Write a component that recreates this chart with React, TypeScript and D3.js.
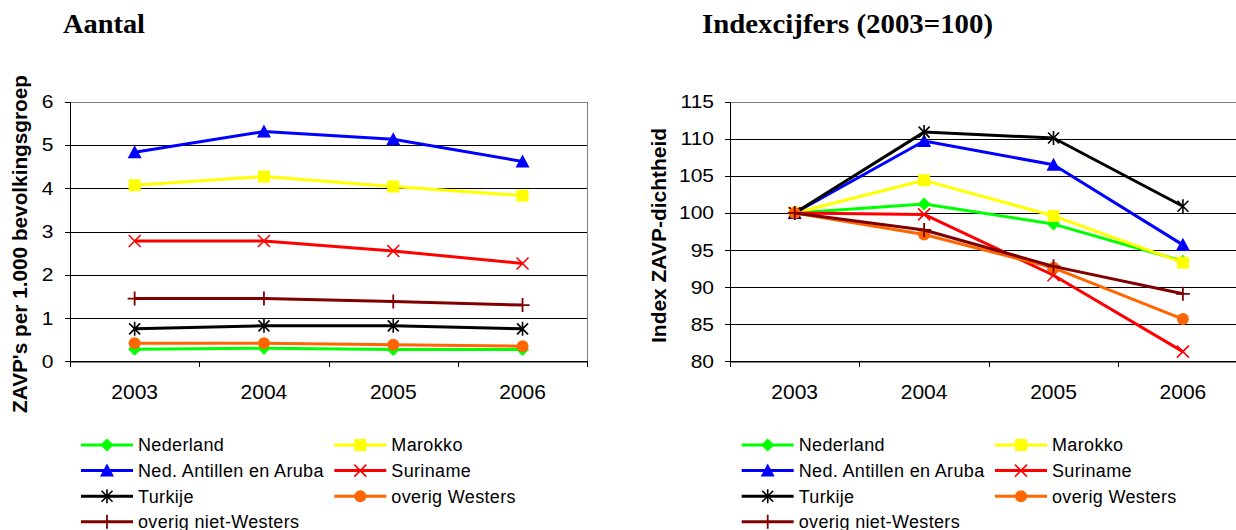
import React from "react";
import * as d3 from "d3";

const years = ["2003", "2004", "2005", "2006"];
const seriesNames = [
  "Nederland",
  "Marokko",
  "Ned. Antillen en Aruba",
  "Suriname",
  "Turkije",
  "overig Westers",
  "overig niet-Westers",
];
const seriesColors = ["#00FF00", "#FFFF00", "#0000FF", "#FF0000", "#000000", "#FF6600", "#800000"];
const seriesMarkers = ["diamond", "square", "triangle", "x", "star", "circle", "plus"];

const aantalNederland = [0.28, 0.3, 0.27, 0.27];
const aantalMarokko = [4.07, 4.27, 4.04, 3.83];
const aantalAntillen = [4.83, 5.31, 5.13, 4.62];
const aantalSuriname = [2.78, 2.78, 2.55, 2.26];
const aantalTurkije = [0.75, 0.82, 0.82, 0.75];
const aantalOverigWesters = [0.42, 0.42, 0.38, 0.35];
const aantalOverigNietWesters = [1.45, 1.45, 1.38, 1.3];

const indexNederland = [100, 101.2, 98.5, 93.5];
const indexMarokko = [100, 104.4, 99.6, 93.3];
const indexAntillen = [100, 109.7, 106.5, 95.7];
const indexSuriname = [100, 99.8, 91.6, 81.3];
const indexTurkije = [100, 110.9, 110.1, 100.9];
const indexOverigWesters = [100, 97.1, 92.6, 85.7];
const indexOverigNietWesters = [100, 97.7, 92.8, 89.1];

const aantalTicks = [0, 1, 2, 3, 4, 5, 6];
const indexTicks = [80, 85, 90, 95, 100, 105, 110, 115];

const aantalData = [
  aantalNederland,
  aantalMarokko,
  aantalAntillen,
  aantalSuriname,
  aantalTurkije,
  aantalOverigWesters,
  aantalOverigNietWesters,
];
const indexData = [
  indexNederland,
  indexMarokko,
  indexAntillen,
  indexSuriname,
  indexTurkije,
  indexOverigWesters,
  indexOverigNietWesters,
];

const SANS = "Arial, 'Liberation Sans', sans-serif";
const SERIF = "'Liberation Serif', 'Times New Roman', serif";

function Marker({ type, x, y, color }: { type: string; x: number; y: number; color: string }) {
  switch (type) {
    case "diamond":
      return <path d={`M${x},${y - 6.5}L${x + 6.5},${y}L${x},${y + 6.5}L${x - 6.5},${y}Z`} fill={color} />;
    case "square":
      return <rect x={x - 6} y={y - 6} width={12} height={12} fill={color} />;
    case "triangle":
      return <path d={`M${x},${y - 7}L${x + 7},${y + 6}L${x - 7},${y + 6}Z`} fill={color} />;
    case "x":
      return (
        <path
          d={`M${x - 6},${y - 6}L${x + 6},${y + 6}M${x - 6},${y + 6}L${x + 6},${y - 6}`}
          stroke={color}
          strokeWidth={1.6}
          fill="none"
        />
      );
    case "star":
      return (
        <path
          d={`M${x - 5.5},${y - 5.5}L${x + 5.5},${y + 5.5}M${x - 5.5},${y + 5.5}L${x + 5.5},${y - 5.5}M${x},${y - 7}L${x},${y + 7}`}
          stroke={color}
          strokeWidth={1.6}
          fill="none"
        />
      );
    case "circle":
      return <circle cx={x} cy={y} r={6} fill={color} />;
    case "plus":
      return (
        <path
          d={`M${x - 7},${y}L${x + 7},${y}M${x},${y - 7}L${x},${y + 7}`}
          stroke={color}
          strokeWidth={1.8}
          fill="none"
        />
      );
    default:
      return null;
  }
}

type ChartProps = {
  x0: number;
  step: number;
  domain: [number, number];
  ticks: number[];
  data: number[][];
  title: string;
  titleX: number;
  titleLen: number;
  yTitle: string;
  yTitleX: number;
  yTitleY: number;
  yTitleLen: number;
  tickLabelX: number;
  legendX: number;
};

function Chart(p: ChartProps) {
  const top = 101.7;
  const bottom = 361.3;
  const right = p.x0 + p.step * years.length;
  const x = d3.scaleBand<string>().domain(years).range([p.x0, right]).padding(0);
  const y = d3.scaleLinear().domain(p.domain).range([bottom, top]);
  const cx = (yr: string) => (x(yr) as number) + x.bandwidth() / 2;
  const line = d3
    .line<number>()
    .x((_, i) => cx(years[i]))
    .y((v) => y(v));
  const crisp = (v: number) => Math.round(v) + 0.5;
  const boundaries = years.map((yr) => x(yr) as number).concat([right]);

  return (
    <g>
      <text
        x={p.titleX}
        y={33}
        fontFamily={SERIF}
        fontWeight="bold"
        fontSize={27}
        textLength={p.titleLen}
        lengthAdjust="spacingAndGlyphs"
      >
        {p.title}
      </text>
      {/* plot border */}
      <rect
        x={crisp(p.x0)}
        y={crisp(top)}
        width={Math.round(right - p.x0)}
        height={Math.round(bottom - top)}
        fill="none"
        stroke="#808080"
        strokeWidth={1}
        shapeRendering="crispEdges"
      />
      {/* gridlines */}
      {p.ticks.slice(1, -1).map((t) => (
        <line
          key={"g" + t}
          x1={p.x0}
          x2={right}
          y1={crisp(y(t))}
          y2={crisp(y(t))}
          stroke="#000"
          strokeWidth={1}
          shapeRendering="crispEdges"
        />
      ))}
      {/* axes */}
      <line x1={crisp(p.x0)} x2={crisp(p.x0)} y1={top} y2={bottom} stroke="#000" shapeRendering="crispEdges" />
      <line x1={p.x0} x2={right} y1={crisp(bottom)} y2={crisp(bottom)} stroke="#000" shapeRendering="crispEdges" />
      {p.ticks.map((t) => (
        <g key={"t" + t}>
          <line
            x1={p.x0 - 5}
            x2={p.x0}
            y1={crisp(y(t))}
            y2={crisp(y(t))}
            stroke="#000"
            shapeRendering="crispEdges"
          />
          <text
            transform={`translate(${p.tickLabelX},${y(t) + 6.5}) scale(1.2,1)`}
            textAnchor="end"
            fontFamily={SANS}
            fontSize={17.5}
            fill="#000"
          >
            {t}
          </text>
        </g>
      ))}
      {boundaries.map((b, i) => (
        <line
          key={"xt" + i}
          x1={crisp(b)}
          x2={crisp(b)}
          y1={bottom}
          y2={bottom + 6}
          stroke="#000"
          shapeRendering="crispEdges"
        />
      ))}
      {years.map((yr) => (
        <text key={"xl" + yr} x={cx(yr)} y={398.5} textAnchor="middle" fontFamily={SANS} fontSize={21} fill="#000">
          {yr}
        </text>
      ))}
      <text
        transform={`translate(${p.yTitleX},${p.yTitleY}) rotate(-90)`}
        textAnchor="middle"
        fontFamily={SANS}
        fontWeight="bold"
        fontSize={20.5}
        textLength={p.yTitleLen}
        lengthAdjust="spacingAndGlyphs"
      >
        {p.yTitle}
      </text>
      {/* series */}
      {p.data.map((vals, si) => (
        <g key={"s" + si}>
          <path d={line(vals) as string} fill="none" stroke={seriesColors[si]} strokeWidth={3} strokeLinejoin="round" />
          {vals.map((v, i) => (
            <Marker key={i} type={seriesMarkers[si]} x={cx(years[i])} y={y(v)} color={seriesColors[si]} />
          ))}
        </g>
      ))}
      {/* legend */}
      {seriesNames.map((name, si) => {
        const col = si % 2;
        const row = Math.floor(si / 2);
        const lx = p.legendX + col * 253.3;
        const ly = 445 + row * 25.6;
        return (
          <g key={"l" + si}>
            <line x1={lx} x2={lx + 52} y1={ly} y2={ly} stroke={seriesColors[si]} strokeWidth={3} />
            <Marker type={seriesMarkers[si]} x={lx + 26} y={ly} color={seriesColors[si]} />
            <text x={lx + 57} y={ly + 6.3} fontFamily={SANS} fontSize={18} letterSpacing={0.35} fill="#000">
              {name}
            </text>
          </g>
        );
      })}
    </g>
  );
}

export default function App() {
  return (
    <svg
      width={1236}
      height={530}
      viewBox="0 0 1236 530"
      style={{ position: "absolute", left: 0, top: 0, background: "#fff" }}
    >
      <rect x={0} y={0} width={1236} height={530} fill="#fff" />
      <Chart
        x0={70}
        step={129.3}
        domain={[0, 6]}
        ticks={aantalTicks}
        data={aantalData}
        title="Aantal"
        titleX={63}
        titleLen={82}
        yTitle="ZAVP's per 1.000 bevolkingsgroep"
        yTitleX={26.5}
        yTitleY={244}
        yTitleLen={338}
        tickLabelX={53.5}
        legendX={81}
      />
      <Chart
        x0={730}
        step={129.4}
        domain={[80, 115]}
        ticks={indexTicks}
        data={indexData}
        title="Indexcijfers (2003=100)"
        titleX={702}
        titleLen={291}
        yTitle="Index ZAVP-dichtheid"
        yTitleX={666}
        yTitleY={235.5}
        yTitleLen={215}
        tickLabelX={714}
        legendX={741.7}
      />
    </svg>
  );
}
